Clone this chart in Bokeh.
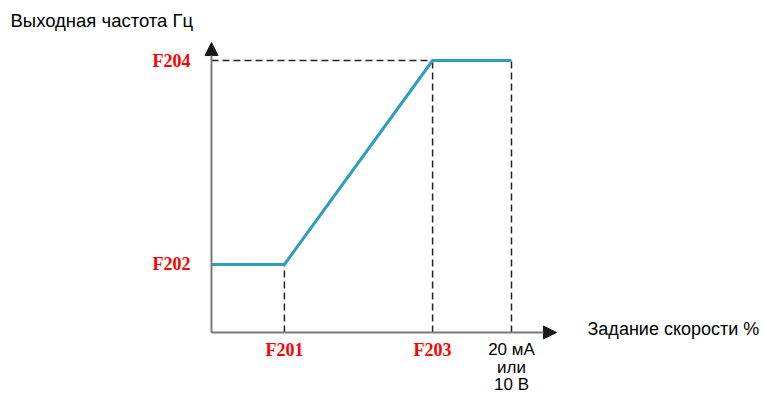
from bokeh.plotting import figure
from bokeh.models import Range1d, Arrow, NormalHead
from bokeh.core.properties import value
from bokeh.embed import file_html
from bokeh.resources import INLINE

# data (percent of range)
x_points = [0, 24.3, 73.7, 100]        # 0, F201, F203, 20 mA / 10 V
y_points = [25, 25, 100, 100]          # F202, F202, F204, F204
x_labels = ["F201", "F203"]
x_label_pos = [24.3, 73.7]
x_end_label = ["20 мА\nили\n10 В"]
x_end_pos = [100]
y_labels = ["F202", "F204"]
y_label_pos = [25, 100]
y_title = "Выходная частота Гц"
x_title = "Задание скорости %"

W, H = 765, 393
p = figure(width=W, height=H, output_backend="svg", toolbar_location=None,
           x_range=Range1d(-70.33, 184.67), y_range=Range1d(-22.43, 122.06),
           x_axis_type=None, y_axis_type=None, min_border=0,
           outline_line_color=None)
p.xgrid.visible = False
p.ygrid.visible = False
p.background_fill_color = "white"
p.border_fill_color = "white"

# dashed guides
vx = x_points[1:]
vy = y_points[1:]
p.segment(x0=vx, y0=[0] * len(vx), x1=vx, y1=vy, line_color="#222222",
          line_width=1.5, line_dash="7 4")
p.segment(x0=[0], y0=[y_points[-1]], x1=[x_points[2]], y1=[y_points[-1]],
          line_color="#222222", line_width=1.5, line_dash="7 4")

# axes with arrows
axis_col = "#7a7a7a"
p.add_layout(Arrow(x_start=0, y_start=0, x_end=0, y_end=106.6,
                   line_color=axis_col, line_width=2,
                   end=NormalHead(size=13, fill_color="#1a1a1a", line_color="#1a1a1a")))
p.add_layout(Arrow(x_start=0, y_start=0, x_end=115, y_end=0,
                   line_color=axis_col, line_width=2,
                   end=NormalHead(size=13, fill_color="#1a1a1a", line_color="#1a1a1a")))

# main curve
p.line(x_points, y_points, line_color="#2E9EC0", line_width=3)

red_font = value("Liberation Serif")
blk_font = value("Liberation Sans")

p.text(x=[0] * len(y_labels), y=y_label_pos, text=y_labels, x_offset=-21,
       text_align="right", text_baseline="middle", text_color="#FF0000",
       text_font=red_font, text_font_style="bold", text_font_size="18px")
p.text(x=x_label_pos, y=[0] * len(x_labels), text=x_labels, y_offset=18,
       text_align="center", text_baseline="middle", text_color="#FF0000",
       text_font=red_font, text_font_style="bold", text_font_size="18px")
p.text(x=x_end_pos, y=[0], text=x_end_label, y_offset=8,
       text_align="center", text_baseline="top", text_color="black",
       text_font=blk_font, text_font_size="17px", text_line_height=0.92)
p.text(x=[-70.33], y=[0], text=[y_title], x_offset=10, y_offset=-(332 - 20),
       text_align="left", text_baseline="middle", text_color="black",
       text_font=blk_font, text_font_size="18.5px")
p.text(x=[115], y=[0], text=[x_title], x_offset=587 - 556, y_offset=-3,
       text_align="left", text_baseline="middle", text_color="black",
       text_font=blk_font, text_font_size="18px")

open("out.html", "w").write(file_html(p, INLINE))
